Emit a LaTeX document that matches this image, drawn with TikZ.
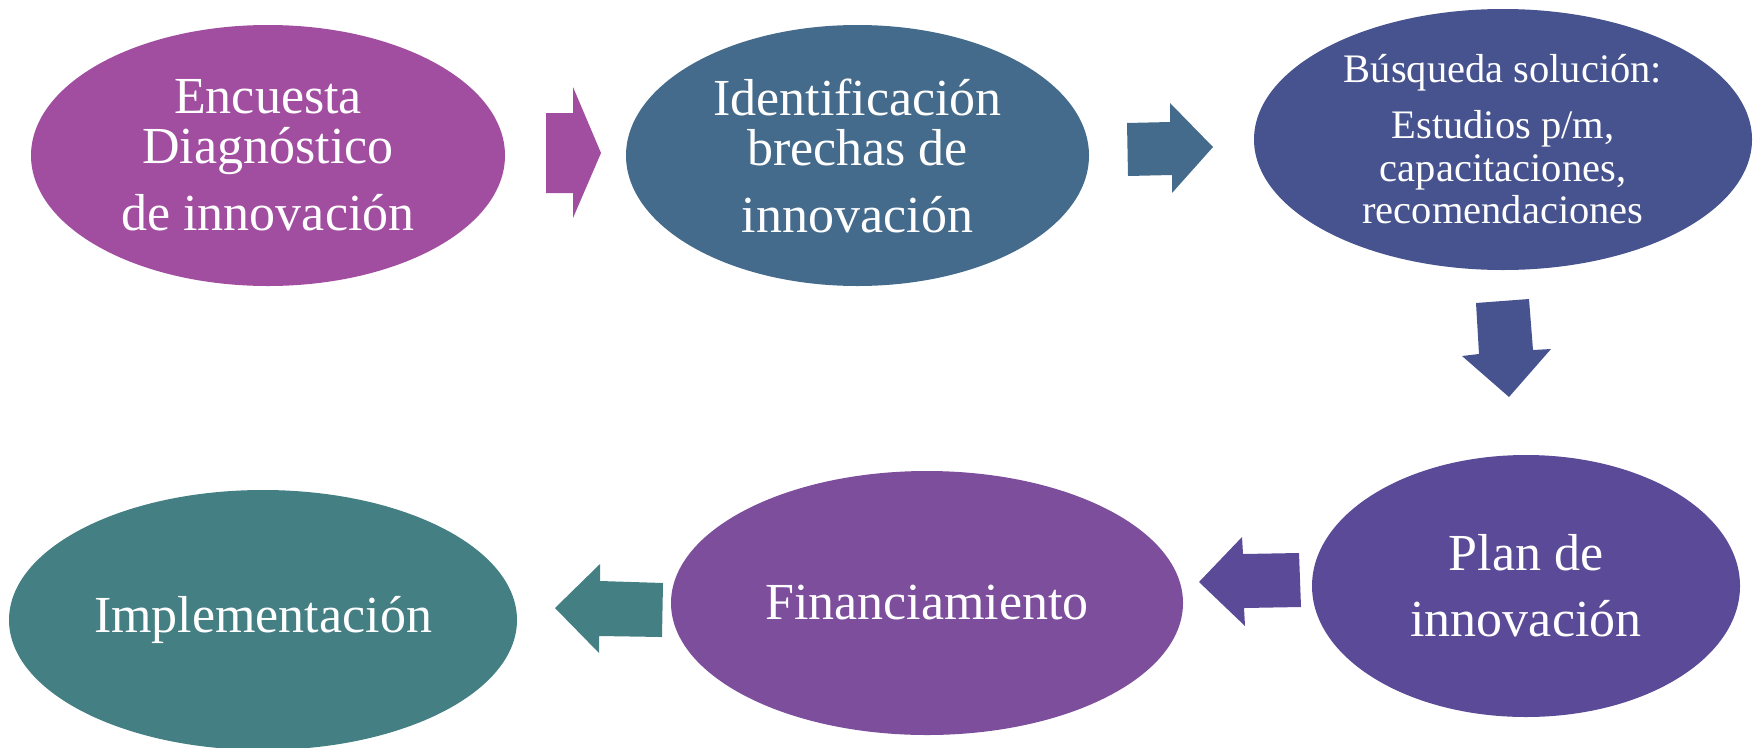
\documentclass[tikz,border=0pt]{standalone}
\usepackage{fontspec}
\setmainfont{Liberation Serif}
\usetikzlibrary{shapes.geometric}
\definecolor{cA}{HTML}{A14EA1}
\definecolor{cB}{HTML}{456B8C}
\definecolor{cC}{HTML}{47538F}
\definecolor{cD}{HTML}{5B4A97}
\definecolor{cE}{HTML}{7C4E9C}
\definecolor{cF}{HTML}{437F83}
\tikzset{
  blob/.style={ellipse, inner sep=0pt, outer sep=0pt, text=white, align=center,
    font=\fontsize{52}{50}\selectfont},
  smalltxt/.style={font=\fontsize{40.5}{42}\selectfont},
  blockarrow/.style={draw=none}
}
\begin{document}
\begin{tikzpicture}[x=1pt,y=-1pt]
\useasboundingbox (0,0) rectangle (1760,747);
% ellipses
\node[blob, fill=cA, minimum width=474pt, minimum height=261pt] (e1) at (268,155.5)
  {Encuesta\\Diagnóstico\\[17pt]de innovación};
\node[blob, fill=cB, minimum width=463pt, minimum height=261pt] (e2) at (857.5,155.5)
  {Identificación\\brechas de\\[17pt]innovación};
\node[blob, smalltxt, fill=cC, minimum width=498pt, minimum height=261pt] (e3) at (1503,139.5)
  {Búsqueda solución:\\[14pt]Estudios p/m,\\[1pt]capacitaciones,\\recomendaciones};
\node[blob, fill=cD, minimum width=428pt, minimum height=262pt] (e4) at (1526,586)
  {Plan de\\[16pt]innovación};
\node[blob, fill=cE, minimum width=512pt, minimum height=264pt] (e5) at (927,603)
  {Financiamiento};
\node[blob, fill=cF, minimum width=508pt, minimum height=260pt] (e6) at (263,620)
  {Implementación};
% block arrows
\fill[cA] (546,113) -- (573,113) -- (573,87) -- (601,153) -- (573,218) -- (573,193) -- (546,193) -- cycle;
\fill[cB] (1127,123) -- (1170,122) -- (1170,103) -- (1213,147) -- (1172,193) -- (1172,175) -- (1128,176) -- cycle;
\fill[cC] (1476,303) -- (1529,299) -- (1533,350) -- (1551,349) -- (1509,397) -- (1462,356) -- (1479,354) -- cycle;
\fill[cD] (1299,553) -- (1243,554) -- (1242,537) -- (1199,582) -- (1245,626) -- (1244,608) -- (1301,607) -- cycle;
\fill[cF] (663,583) -- (600,581) -- (600,564) -- (555,608) -- (599,653) -- (599,636) -- (662,637) -- cycle;
\end{tikzpicture}
\end{document}
